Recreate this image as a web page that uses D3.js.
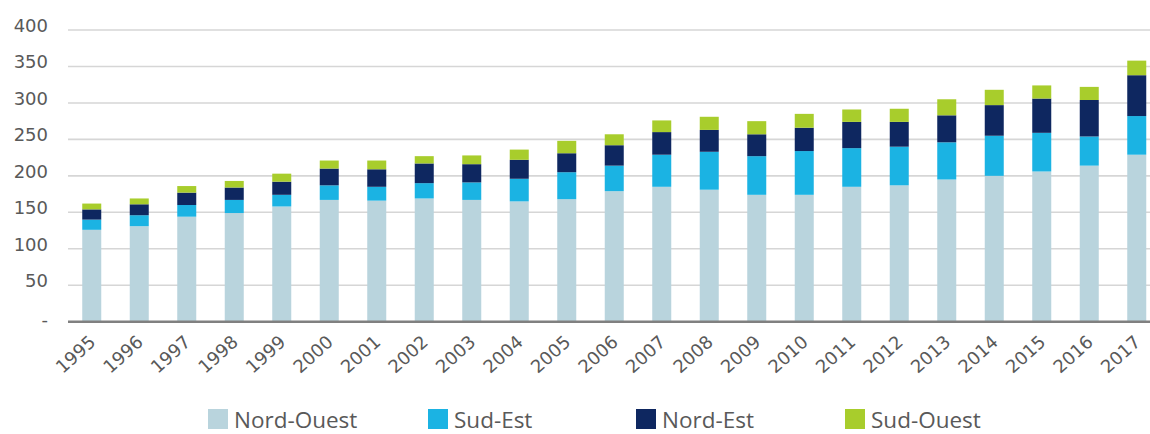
<!DOCTYPE html>
<html>
<head>
<meta charset="utf-8">
<script src="https://cdn.jsdelivr.net/npm/d3@7"></script>
<style>
  html, body { margin: 0; padding: 0; background: #ffffff; }
  svg { display: block; }
</style>
</head>
<body>
<svg id="chart" width="1150" height="434"></svg>
<script>
// Regional totals per year, stacked by region
const years = ["1995","1996","1997","1998","1999","2000","2001","2002","2003","2004","2005","2006",
               "2007","2008","2009","2010","2011","2012","2013","2014","2015","2016","2017"];
const nordOuest = [126,131,144,149,158,167,166,169,167,165,168,179,185,181,174,174,185,187,195,200,206,214,229];
const sudEst    = [14,15,16,18,16,20,19,21,24,31,37,35,44,52,53,60,53,53,51,55,53,40,53];
const nordEst   = [14,15,17,17,18,23,24,27,25,26,26,28,31,30,30,32,36,34,37,42,47,50,56];
const sudOuest  = [8,8,9,9,11,11,12,10,12,14,17,15,16,18,18,19,17,18,22,21,18,18,20];

const seriesNames = ["Nord-Ouest","Sud-Est","Nord-Est","Sud-Ouest"];
const seriesColors = ["#b9d4dd","#1bb3e3","#0e2760","#a8cd2c"];
const yTicks = [0,50,100,150,200,250,300,350,400];
const yTickLabels = ["-","50","100","150","200","250","300","350","400"];

// Layout
const plotLeft = 68, plotRight = 1160.5, plotTop = 30, plotBottom = 321.7;
const legendX = [208, 428, 636, 845];
const legendY = 409;
const axisFont = "'DejaVu Sans', Verdana, sans-serif";
const legendFont = "'Open Sans', 'DejaVu Sans', sans-serif";
const textColor = "#595959";

const rows = years.map((y, i) => ({
  year: y,
  "Nord-Ouest": nordOuest[i],
  "Sud-Est": sudEst[i],
  "Nord-Est": nordEst[i],
  "Sud-Ouest": sudOuest[i]
}));

const stacked = d3.stack().keys(seriesNames)(rows);

const svg = d3.select("#chart");

const x = d3.scaleBand()
  .domain(years)
  .range([plotLeft, plotRight])
  .paddingInner(0.6)
  .paddingOuter(0.3);

const y = d3.scaleLinear()
  .domain([0, 400])
  .range([plotBottom, plotTop]);

const color = d3.scaleOrdinal().domain(seriesNames).range(seriesColors);

// Horizontal gridlines
svg.append("g")
  .selectAll("line")
  .data(yTicks.filter(t => t > 0))
  .join("line")
  .attr("x1", plotLeft)
  .attr("x2", 1150)
  .attr("y1", d => y(d))
  .attr("y2", d => y(d))
  .attr("stroke", "#d6d6d6")
  .attr("stroke-width", 1.6);

// Y axis labels (numbers sit slightly above their gridline)
const yAxis = d3.axisLeft(y)
  .tickValues(yTicks)
  .tickSize(0)
  .tickPadding(0)
  .tickFormat((d, i) => yTickLabels[i]);

const yg = svg.append("g")
  .attr("transform", `translate(48,0)`)
  .call(yAxis);
yg.select(".domain").remove();
yg.selectAll("text")
  .attr("font-family", axisFont)
  .attr("font-size", "18px")
  .attr("fill", textColor)
  .attr("dy", d => d === 0 ? "0.2em" : "0.08em");

// Stacked bars
svg.append("g")
  .selectAll("g")
  .data(stacked)
  .join("g")
  .attr("fill", d => color(d.key))
  .selectAll("rect")
  .data(d => d)
  .join("rect")
  .attr("x", d => x(d.data.year))
  .attr("width", x.bandwidth())
  .attr("y", d => y(d[1]))
  .attr("height", d => y(d[0]) - y(d[1]));

// X axis baseline and rotated year labels
const xAxis = d3.axisBottom(x).tickSize(0).tickPadding(0);
const xg = svg.append("g")
  .attr("transform", `translate(0,${plotBottom})`)
  .call(xAxis);
xg.select(".domain")
  .attr("d", `M${plotLeft},0H1150`)
  .attr("stroke", "#808080")
  .attr("stroke-width", 2.5);
xg.selectAll("text")
  .attr("font-family", axisFont)
  .attr("font-size", "18px")
  .attr("fill", textColor)
  .attr("text-anchor", "end")
  .attr("dy", null)
  .attr("y", 0)
  .attr("transform", "translate(5,22) rotate(-42)");

// Legend
const legend = svg.append("g")
  .selectAll("g")
  .data(seriesNames)
  .join("g")
  .attr("transform", (d, i) => `translate(${legendX[i]},${legendY})`);
legend.append("rect")
  .attr("width", 20)
  .attr("height", 20)
  .attr("fill", d => color(d));
legend.append("text")
  .attr("x", 26)
  .attr("y", 19)
  .attr("font-family", legendFont)
  .attr("font-size", "22.5px")
  .attr("fill", textColor)
  .text(d => d);
</script>
</body>
</html>
